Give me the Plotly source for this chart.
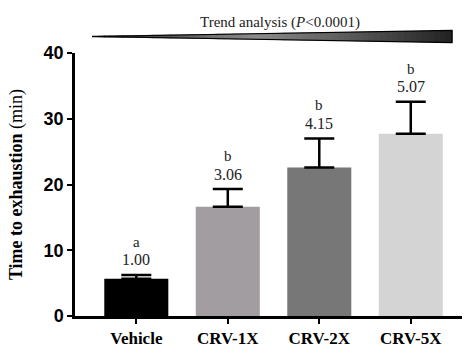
import plotly.graph_objects as go

categories = ["Vehicle", "CRV-1X", "CRV-2X", "CRV-5X"]
means = [5.65, 16.6, 22.6, 27.7]
sem = [0.6, 2.7, 4.4, 4.9]
fold_labels = ["1.00", "3.06", "4.15", "5.07"]
sig_letters = ["a", "b", "b", "b"]
bar_colors = ["#000000", "#a19da1", "#777777", "#d4d4d4"]
y_ticks = [0, 10, 20, 30, 40]

W, H = 467, 353
L, R, T, B = 75, 5, 53, 33
pw, ph = W - L - R, H - T - B

SERIF = "Liberation Serif, Times New Roman, serif"
SANS = "Liberation Sans, Arial, sans-serif"

fig = go.Figure()
fig.add_trace(go.Bar(
    x=categories, y=means, width=0.70,
    marker=dict(color=bar_colors, line=dict(width=0)),
    error_y=dict(type="data", array=sem, arrayminus=[0] * len(sem), symmetric=False,
                 color="black", thickness=2.5, width=15),
    showlegend=False,
))

annotations = []
for c, m, s, f, l in zip(categories, means, sem, fold_labels, sig_letters):
    annotations.append(dict(x=c, y=m + s, text=f, showarrow=False, yanchor="middle",
                            yshift=15, font=dict(family=SERIF, size=16, color="#222")))
    annotations.append(dict(x=c, y=m + s, text=l, showarrow=False, yanchor="middle",
                            yshift=33, font=dict(family=SERIF, size=15, color="#222")))

def px2paper(x, y):
    return (x - L) / pw, (T + ph - y) / ph

tx, ty = px2paper(280, 22)
annotations.append(dict(xref="paper", yref="paper", x=tx, y=ty, showarrow=False,
                        text="Trend analysis (<i>P</i><0.0001)", yanchor="middle",
                        font=dict(family=SERIF, size=15, color="#222")))

# Gradient wedge built from thin slices
shapes = []
x0, x1 = 92.0, 452.0
ytop0, ytop1 = 35.5, 30.0
ybot0, ybot1 = 37.0, 42.5
n = 60
for i in range(n):
    a0 = i / n
    a1 = (i + 1) / n
    xa = x0 + (x1 - x0) * a0
    xb = x0 + (x1 - x0) * a1 + 0.5
    ta = ytop0 + (ytop1 - ytop0) * a0
    tb = ytop0 + (ytop1 - ytop0) * a1
    ba = ybot0 + (ybot1 - ybot0) * a0
    bb = ybot0 + (ybot1 - ybot0) * a1
    am = (a0 + a1) / 2
    if am < 0.45:
        g = 40 + 100 * am / 0.45
    else:
        g = 140 - 105 * (am - 0.45) / 0.55
    g = int(max(25, min(150, g)))
    col = f"rgb({g},{g},{g})"
    p1 = px2paper(xa, ta); p2 = px2paper(xb, tb); p3 = px2paper(xb, bb); p4 = px2paper(xa, ba)
    shapes.append(dict(type="path", xref="paper", yref="paper",
                       path=f"M {p1[0]} {p1[1]} L {p2[0]} {p2[1]} L {p3[0]} {p3[1]} L {p4[0]} {p4[1]} Z",
                       fillcolor=col, line=dict(width=0), layer="above"))
q1 = px2paper(x0, (ytop0 + ybot0) / 2); q2 = px2paper(x1, ytop1); q3 = px2paper(x1, ybot1)
shapes.append(dict(type="path", xref="paper", yref="paper",
                   path=f"M {q1[0]} {q1[1]} L {q2[0]} {q2[1]} L {q3[0]} {q3[1]} Z",
                   fillcolor="rgba(0,0,0,0)", line=dict(color="black", width=1.2), layer="above"))

fig.update_layout(
    width=W, height=H,
    margin=dict(l=L, r=R, t=T, b=B, pad=0),
    paper_bgcolor="white", plot_bgcolor="white",
    bargap=0.3,
    annotations=annotations,
    shapes=shapes,
    xaxis=dict(range=[-0.67, 3.56], showgrid=False, zeroline=False,
               showline=True, linecolor="black", linewidth=2.5,
               ticks="outside", ticklen=5, tickwidth=2, tickcolor="black",
               tickfont=dict(family=SERIF, size=17, color="black", weight="bold")),
    yaxis=dict(range=[0, 40], tickvals=y_ticks, showgrid=False, zeroline=False,
               showline=True, linecolor="black", linewidth=2.5,
               ticks="outside", ticklen=5, tickwidth=2, tickcolor="black",
               tickfont=dict(family=SANS, size=18, color="black", weight="bold"),
               title=dict(text="<b>Time to exhaustion</b> (min)", standoff=17,
                          font=dict(family=SERIF, size=18, color="black"))),
)

fig.write_html("out.html", config={"displayModeBar": False},
               post_script="document.body.style.margin='0';document.body.style.overflow='hidden';")
